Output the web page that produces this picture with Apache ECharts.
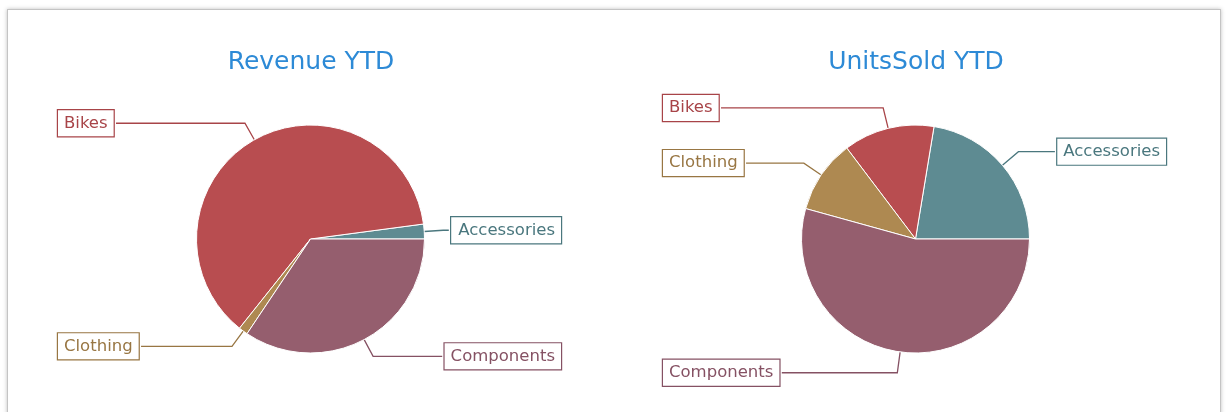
<!DOCTYPE html>
<html>
<head>
<meta charset="utf-8">
<title>Revenue / UnitsSold YTD</title>
<script src="https://cdn.jsdelivr.net/npm/echarts@6/dist/echarts.min.js"></script>
<style>
html, body { margin: 0; padding: 0; background: #fff; }
/* 外框 */
.frame {
    position: absolute; left: 7px; top: 9px; width: 1212px; height: 420px;
    border: 1px solid #c4c4c4; box-shadow: 0 0 4px rgba(0, 0, 0, 0.25); background: #fff;
}
#chart { position: absolute; left: 0; top: 0; width: 1226px; height: 412px; }
</style>
</head>
<body>
<div class="frame"></div>
<div id="chart"></div>
<script>
// 数据
const categories = ['Accessories', 'Bikes', 'Clothing', 'Components'];
const revenueYTD = [2.1, 62.2, 1.3, 34.4];
const unitsSoldYTD = [22.4, 12.9, 10.4, 54.3];
const titles = ['Revenue YTD', 'UnitsSold YTD'];

const sliceColors = ['#5e8b92', '#b84d50', '#ae8951', '#955e6e'];
const labelColors = ['#4a777e', '#a84448', '#987643', '#855163'];
const labelFont = '"DejaVu Sans", sans-serif';

function pieSeries(name, values, left, lineLen) {
    return {
        name: name,
        type: 'pie',
        left: left,
        top: 0,
        width: 603,
        height: 412,
        center: [302.5, 239],
        radius: 114,
        clockwise: false,
        startAngle: 0,
        animation: false,
        itemStyle: { borderColor: '#fff', borderWidth: 1 },
        label: {
            show: true,
            position: 'outside',
            alignTo: 'edge',
            edgeDistance: 50,
            distanceToLabelLine: 0,
            overflow: 'none',
            fontFamily: labelFont,
            fontSize: 16.5,
            lineHeight: 18,
            padding: [4, 6],
            borderWidth: 1.2,
            backgroundColor: '#fff'
        },
        labelLine: { show: true, length: lineLen, length2: 8, lineStyle: { width: 1.3 } },
        emphasis: { disabled: true },
        data: categories.map(function (c, i) {
            return {
                name: c,
                value: values[i],
                itemStyle: { color: sliceColors[i] },
                label: { color: labelColors[i], borderColor: labelColors[i] },
                labelLine: { lineStyle: { color: labelColors[i] } }
            };
        })
    };
}

const titleStyle = { color: '#2d8ad6', fontFamily: labelFont, fontSize: 25, fontWeight: 'normal' };
const chart = echarts.init(document.getElementById('chart'));
chart.setOption({
    animation: false,
    title: [
        { text: titles[0], left: 306, top: 45, textAlign: 'center', textStyle: titleStyle },
        { text: titles[1], left: 911, top: 45, textAlign: 'center', textStyle: titleStyle }
    ],
    series: [
        pieSeries(titles[0], revenueYTD, 8, 19),
        pieSeries(titles[1], unitsSoldYTD, 613, 21)
    ]
});
</script>
</body>
</html>
